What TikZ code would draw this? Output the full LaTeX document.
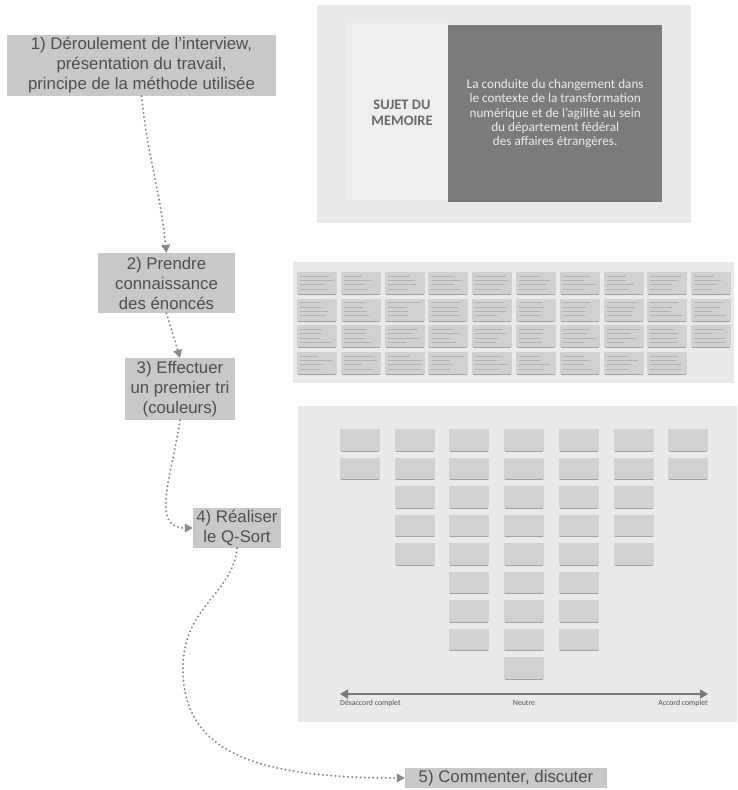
\documentclass[tikz,border=0pt]{standalone}
\usepackage{fontspec}
\setmainfont{Liberation Sans}
\newfontfamily\carl{Carlito}
\usetikzlibrary{arrows.meta}
\definecolor{boxgray}{HTML}{C8C8C8}
\definecolor{txtgray}{HTML}{4F4F4F}
\definecolor{panel}{HTML}{E9E9E9}
\definecolor{panelin}{HTML}{EEEEEE}
\definecolor{darkpanel}{HTML}{7B7B7B}
\definecolor{card}{HTML}{D1D1D1}
\definecolor{cardedge}{HTML}{A0A0A0}
\definecolor{cardtext}{HTML}{B2B2B2}
\definecolor{dotgray}{HTML}{888888}
\definecolor{axisgray}{HTML}{7A7A7A}
\begin{document}
\begin{tikzpicture}[x=1pt,y=-1pt,
  stepbox/.style={fill=boxgray, text=txtgray, align=center, inner sep=0pt,
    font=\fontsize{16.8}{20}\selectfont},
  dotlink/.style={draw=dotgray, line width=2.2pt, line cap=round,
    dash pattern=on 0pt off 4.2pt,
    -{Triangle[length=8pt,width=9pt,fill=dotgray,line width=0pt]}},
  qcard/.style={fill=card},
  lbl/.style={font=\carl\fontsize{7.8}{9}\selectfont, text=txtgray, inner sep=0pt},
]
\path[use as bounding box] (0,0) rectangle (737,790);

% ---------- step boxes ----------
\node[stepbox, minimum width=269, minimum height=61] (b1) at (141.5,65.5)
  {1) Déroulement de l'interview,\\présentation du travail,\\principe de la méthode utilisée};
\node[stepbox, minimum width=137, minimum height=60] (b2) at (166.5,283)
  {2) Prendre\\connaissance\\des énoncés};
\node[stepbox, minimum width=110, minimum height=62] (b3) at (180,389)
  {3) Effectuer\\un premier tri\\(couleurs)};
\node[stepbox, minimum width=88, minimum height=40] (b4) at (237,528)
  {4) Réaliser\\le Q-Sort};
\node[stepbox, minimum width=202, minimum height=20] (b5) at (506,778)
  {5) Commenter, discuter};

% ---------- connectors ----------
\draw[dotlink] (b1.south) to[out=-84,in=96] (b2.north);
\draw[dotlink] (b2.south) -- (b3.north);
\draw[dotlink] (b3.south) .. controls (172,475) and (150,528) .. (b4.west);
\draw[dotlink] (b4.south) .. controls (232,595) and (185,605) .. (183,665)
   .. controls (181,750) and (250,778) .. (b5.west);

% ---------- top panel ----------
\fill[panel] (317,5) rectangle (691,223);
\fill[panelin] (347,23) rectangle (448,200);
\node[fill=darkpanel, minimum width=214, minimum height=177, inner sep=0pt,
  anchor=north west] (subj) at (448,25) {};
\node[text=txtgray!85, font=\carl\bfseries\fontsize{14.5}{15.5}\selectfont, align=center]
  (sujet) at (402,113) {SUJET DU\\MEMOIRE};
\node[text=white!92!black, font=\carl\fontsize{13.2}{14.2}\selectfont, align=center]
  (theme) at (subj.center)
  {La conduite du changement dans\\le contexte de la transformation\\numérique et de l’agilité au sein\\du département fédéral\\des affaires étrangères.};

% ---------- statements panel ----------
\fill[panel] (293,262) rectangle (734,383);
\pgfmathsetseed{11}
\foreach \r in {0,1,2,3}{
  \foreach \c in {0,...,9}{
    \pgfmathtruncatemacro\skip{(\r==3 && \c==9) ? 1 : 0}
    \ifnum\skip=0
      \pgfmathsetmacro\xa{297+43.8*\c}
      \pgfmathsetmacro\ya{272+26.7*\r}
      \fill[card] (\xa,\ya) rectangle ++(40,22);
      \draw[cardedge, line width=0.9pt] (\xa+1,\ya+22.3) -- ++(38,0);
      \foreach \k in {0,1,2,3}{
        \pgfmathsetmacro\ll{18+16*rnd}
        \draw[cardtext, line width=0.55pt] (\xa+3,\ya+4+4.3*\k) -- ++(\ll,0);
      }
    \fi
  }
}

% ---------- Q-sort panel ----------
\fill[panel] (298,406) rectangle (737,722);
\foreach \c/\n in {0/2,1/5,2/8,3/9,4/8,5/5,6/2}{
  \foreach \r in {1,...,\n}{
    \pgfmathsetmacro\xa{340+54.7*\c}
    \pgfmathsetmacro\ya{429+28.5*(\r-1)}
    \fill[qcard] (\xa,\ya) rectangle ++(40,22);
    \draw[cardedge, line width=0.9pt] (\xa+1,\ya+22.3) -- ++(38,0);
  }
}
\coordinate (qa) at (340,694);
\coordinate (qb) at (708,694);
\draw[axisgray, line width=1.8pt,
  {Triangle[length=8pt,width=9pt]}-{Triangle[length=8pt,width=9pt]}] (qa) -- (qb);
\node[lbl, anchor=west] (dis) at (340,703) {Désaccord complet};
\node[lbl] (neu) at (524,703) {Neutre};
\node[lbl, anchor=east] (acc) at (708,703) {Accord complet};
\end{tikzpicture}
\end{document}
